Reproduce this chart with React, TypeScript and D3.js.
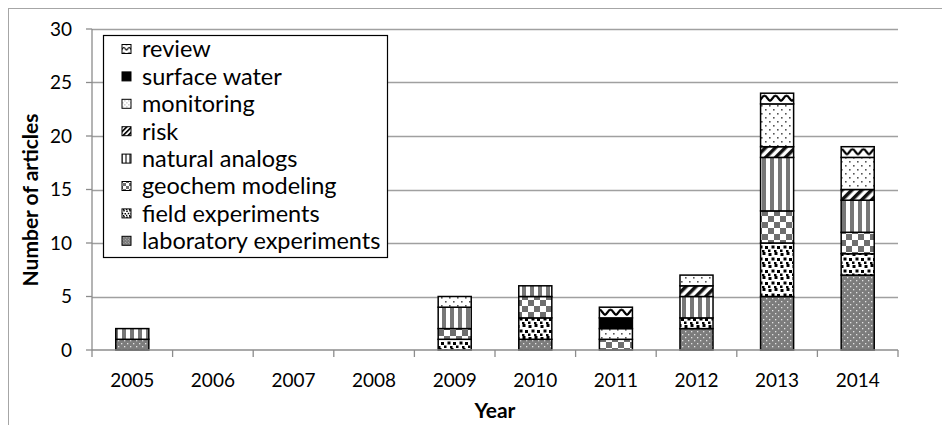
import * as React from 'react';
import * as d3 from 'd3';

const years = ['2005', '2006', '2007', '2008', '2009', '2010', '2011', '2012', '2013', '2014'];
const laboratory = [1, 0, 0, 0, 0, 1, 0, 2, 5, 7];
const field = [0, 0, 0, 0, 1, 2, 0, 1, 5, 2];
const geochem = [0, 0, 0, 0, 1, 2, 1, 0, 3, 2];
const natural = [1, 0, 0, 0, 2, 1, 0, 2, 5, 3];
const risk = [0, 0, 0, 0, 0, 0, 0, 1, 1, 1];
const monitoring = [0, 0, 0, 0, 1, 0, 1, 1, 4, 3];
const surfaceWater = [0, 0, 0, 0, 0, 0, 1, 0, 0, 0];
const review = [0, 0, 0, 0, 0, 0, 1, 0, 1, 1];
const yTicks = [0, 5, 10, 15, 20, 25, 30];

const series = [
  { key: 'lab', label: 'laboratory experiments', values: laboratory },
  { key: 'field', label: 'field experiments', values: field },
  { key: 'geochem', label: 'geochem modeling', values: geochem },
  { key: 'natural', label: 'natural analogs', values: natural },
  { key: 'risk', label: 'risk', values: risk },
  { key: 'monitoring', label: 'monitoring', values: monitoring },
  { key: 'surface', label: 'surface water', values: surfaceWater },
  { key: 'review', label: 'review', values: review },
];

const W = 942;
const H = 425;
const font = 'Lato, "Open Sans", sans-serif';

// s = scale of the tile, oy = vertical origin so tiles line up with unit steps
const Patterns = ({ suffix, s, oy }: { suffix: string; s: number; oy: number }) => (
  <>
    <pattern id={`p-lab${suffix}`} width={6 * s} height={6 * s} patternUnits="userSpaceOnUse">
      <rect width={6 * s} height={6 * s} fill="#7c7c7c" />
      <rect x={1 * s} y={1 * s} width={1.3 * s} height={1.3 * s} fill="#e2e2e2" />
      <rect x={4 * s} y={4 * s} width={1.3 * s} height={1.3 * s} fill="#e2e2e2" />
    </pattern>
    <pattern id={`p-field${suffix}`} width={12 * s} height={12 * s} patternUnits="userSpaceOnUse">
      <rect width={12 * s} height={12 * s} fill="#fff" />
      <rect x={0.5 * s} y={1 * s} width={3 * s} height={3 * s} fill="#000" />
      <rect x={6.5 * s} y={0} width={3 * s} height={3 * s} fill="#000" />
      <rect x={3.5 * s} y={5.5 * s} width={3 * s} height={3 * s} fill="#000" />
      <rect x={9 * s} y={6 * s} width={3 * s} height={3 * s} fill="#000" />
      <rect x={0} y={9.5 * s} width={2.5 * s} height={2.5 * s} fill="#000" />
      <rect x={6 * s} y={10 * s} width={2.5 * s} height={2 * s} fill="#000" />
    </pattern>
    <pattern id={`p-geochem${suffix}`} width={12 * s} height={12 * s} patternUnits="userSpaceOnUse">
      <rect width={12 * s} height={12 * s} fill="#fff" />
      <rect x={0} y={0} width={6 * s} height={6 * s} fill="#6e6e6e" />
      <rect x={6 * s} y={6 * s} width={6 * s} height={6 * s} fill="#6e6e6e" />
    </pattern>
    <pattern id={`p-natural${suffix}`} width={8 * s} height={8 * s} patternUnits="userSpaceOnUse">
      <rect width={8 * s} height={8 * s} fill="#fff" />
      <rect x={2 * s} y={0} width={4 * s} height={8 * s} fill="#777" />
    </pattern>
    <pattern id={`p-risk${suffix}`} width={7 * s} height={7 * s} patternUnits="userSpaceOnUse" patternTransform="rotate(45)">
      <rect width={7 * s} height={7 * s} fill="#fff" />
      <rect x={0} y={0} width={3.5 * s} height={7 * s} fill="#111" />
    </pattern>
    <pattern id={`p-monitoring${suffix}`} width={8 * s} height={8 * s} patternUnits="userSpaceOnUse">
      <rect width={8 * s} height={8 * s} fill="#fff" />
      <rect x={1 * s} y={1 * s} width={1.6 * s} height={1.6 * s} fill="#555" />
      <rect x={5 * s} y={5 * s} width={1.6 * s} height={1.6 * s} fill="#555" />
    </pattern>
    <pattern id={`p-surface${suffix}`} width={4} height={4} patternUnits="userSpaceOnUse">
      <rect width={4} height={4} fill="#000" />
    </pattern>
    <pattern id={`p-review${suffix}`} y={oy} width={11 * s} height={10.7 * s} patternUnits="userSpaceOnUse">
      <rect width={11 * s} height={10.7 * s} fill="#fff" />
      <path
        d={`M0,${7.5 * s} C${2 * s},${7.5 * s} ${3 * s},${2.5 * s} ${5.5 * s},${2.5 * s} C${8 * s},${2.5 * s} ${9 * s},${7.5 * s} ${11 * s},${7.5 * s}`}
        fill="none"
        stroke="#000"
        strokeWidth={2.3 * s}
      />
    </pattern>
  </>
);

export default function App() {
  const left = 92;
  const right = 898;
  const top = 29;
  const bottom = 350;

  const x = d3.scaleBand<string>().domain(years).range([left, right]).paddingInner(0).paddingOuter(0);
  const y = d3.scaleLinear().domain([0, 30]).range([bottom, top]);
  const barW = x.bandwidth() * 0.41;

  const table = years.map((yr, i) => {
    const row: Record<string, any> = { year: yr };
    series.forEach((s) => (row[s.key] = s.values[i]));
    return row;
  });
  const stacked = d3.stack<any>().keys(series.map((s) => s.key))(table);

  const legendItems = [...series].reverse();
  const lgX = 103;
  const lgY = 35;
  const rowH = 27.4;

  return (
    <svg width={W} height={H} style={{ position: 'absolute', left: 0, top: 0 }} fontFamily={font}>
      <defs>
        <Patterns suffix="" s={1} oy={bottom} />
        <Patterns suffix="-lg" s={0.5} oy={49 - 2.7} />
      </defs>
      <rect x={0} y={0} width={W} height={H} fill="#fff" />
      <rect x={8.5} y={8.5} width={W + 20} height={H + 20} fill="none" stroke="#a6a6a6" strokeWidth={1} />

      {/* gridlines */}
      {yTicks.filter((t) => t > 0).map((t) => (
        <line key={t} x1={left} x2={right} y1={Math.round(y(t)) + 0.5} y2={Math.round(y(t)) + 0.5} stroke="#a0a0a0" strokeWidth={1.3} />
      ))}

      {/* bars */}
      {stacked.map((layer) => (
        <g key={layer.key}>
          {layer.map((d, i) => {
            if (d[1] - d[0] <= 0) return null;
            const cx = (x(years[i]) as number) + x.bandwidth() / 2;
            return (
              <rect
                key={i}
                x={cx - barW / 2}
                y={y(d[1])}
                width={barW}
                height={y(d[0]) - y(d[1])}
                fill={`url(#p-${layer.key})`}
                stroke="#000"
                strokeWidth={1.5}
              />
            );
          })}
        </g>
      ))}

      {/* axes */}
      <line x1={left} x2={left} y1={top} y2={bottom} stroke="#8c8c8c" strokeWidth={1.3} />
      <line x1={left} x2={right} y1={bottom} y2={bottom} stroke="#8c8c8c" strokeWidth={1.5} />
      {yTicks.map((t) => (
        <g key={t}>
          <line x1={left - 6} x2={left} y1={y(t)} y2={y(t)} stroke="#8c8c8c" strokeWidth={1.3} />
          <text x={72} y={y(t)} dy="0.35em" textAnchor="end" fontSize={19} fill="#000">{t}</text>
        </g>
      ))}
      {[...years.map((yr) => x(yr) as number), right].map((px, i) => (
        <line key={i} x1={px} x2={px} y1={bottom} y2={bottom + 7} stroke="#8c8c8c" strokeWidth={1.3} />
      ))}
      {years.map((yr) => (
        <text key={yr} x={(x(yr) as number) + x.bandwidth() / 2} y={387} textAnchor="middle" fontSize={19} fill="#000">{yr}</text>
      ))}

      {/* axis titles */}
      <text x={495} y={418} textAnchor="middle" fontSize={21} fontWeight="bold" fill="#000">Year</text>
      <text transform="translate(38,200) rotate(-90)" textAnchor="middle" fontSize={21} fontWeight="bold" fill="#000">Number of articles</text>

      {/* legend */}
      <rect x={lgX + 0.5} y={lgY + 0.5} width={284} height={222} fill="#fff" stroke="#000" strokeWidth={1.2} />
      {legendItems.map((s, i) => {
        const cy = 49 + i * rowH;
        return (
          <g key={s.key}>
            <rect x={122} y={cy - 4.5} width={9} height={9} fill={`url(#p-${s.key}-lg)`} stroke="#000" strokeWidth={1} />
            <text x={142} y={cy} dy="0.36em" fontSize={23.5} fill="#000">{s.label}</text>
          </g>
        );
      })}
    </svg>
  );
}
